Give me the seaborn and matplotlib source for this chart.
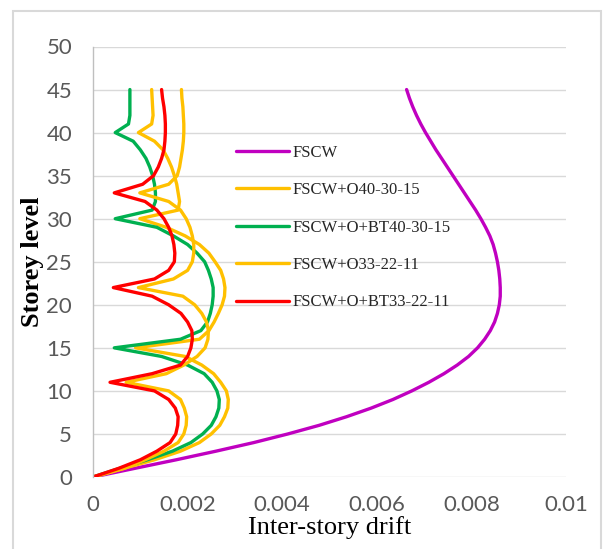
import matplotlib
matplotlib.use("Agg")
import matplotlib.pyplot as plt
import seaborn as sns
import pandas as pd
from matplotlib.patches import Rectangle

# ---- data (drift values in units of 1e-3) ----
storeys = list(range(0, 46))
series_names = ["FSCW", "FSCW+O40-30-15", "FSCW+O+BT40-30-15",
                "FSCW+O33-22-11", "FSCW+O+BT33-22-11"]
fscw = [0, 0.88, 1.76, 2.6, 3.4, 4.12, 4.78, 5.36, 5.88, 6.34,
        6.74, 7.1, 7.42, 7.7, 7.94, 8.13, 8.28, 8.4, 8.49, 8.55,
        8.59, 8.61, 8.61, 8.6, 8.58, 8.55, 8.51, 8.46, 8.39, 8.3,
        8.2, 8.09, 7.97, 7.85, 7.73, 7.61, 7.49, 7.37, 7.25, 7.14,
        7.03, 6.93, 6.84, 6.76, 6.69, 6.63]
o40 = [0, 0.65, 1.3, 1.85, 2.25, 2.5, 2.68, 2.78, 2.85, 2.86,
       2.82, 2.7, 2.55, 2.3, 1.95, 0.9, 2.25, 2.45, 2.56, 2.65,
       2.73, 2.78, 2.79, 2.76, 2.7, 2.58, 2.45, 2.25, 1.95, 1.55,
       0.99, 1.8, 1.83, 1.8, 1.77, 1.72, 1.66, 1.58, 1.48, 1.3,
       0.96, 1.24, 1.27, 1.26, 1.25, 1.24]
obt40 = [0, 0.56, 1.15, 1.68, 2.07, 2.32, 2.5, 2.6, 2.66, 2.67,
         2.62, 2.52, 2.35, 2.0, 1.45, 0.45, 1.85, 2.28, 2.42, 2.48,
         2.52, 2.54, 2.54, 2.5, 2.44, 2.36, 2.2, 2.0, 1.7, 1.35,
         0.47, 1.25, 1.32, 1.32, 1.3, 1.26, 1.2, 1.12, 1.0, 0.85,
         0.47, 0.75, 0.78, 0.78, 0.78, 0.78]
o33 = [0, 0.66, 1.1, 1.5, 1.8, 1.92, 1.97, 1.98, 1.93, 1.85,
       1.6, 0.7, 1.55, 1.92, 2.2, 2.37, 2.43, 2.44, 2.4, 2.3,
       2.15, 1.9, 0.96, 1.7, 2.0, 2.1, 2.13, 2.13, 2.1, 2.05,
       1.97, 1.85, 1.6, 0.99, 1.6, 1.78, 1.83, 1.86, 1.89, 1.91,
       1.92, 1.92, 1.91, 1.9, 1.88, 1.87]
obt33 = [0, 0.54, 1.0, 1.35, 1.63, 1.75, 1.79, 1.8, 1.74, 1.6,
         1.3, 0.36, 1.25, 1.85, 2.0, 2.07, 2.1, 2.09, 2.0, 1.86,
         1.6, 1.25, 0.43, 1.3, 1.6, 1.72, 1.73, 1.71, 1.67, 1.6,
         1.5, 1.35, 1.1, 0.45, 1.05, 1.28, 1.38, 1.45, 1.5, 1.52,
         1.53, 1.53, 1.52, 1.5, 1.47, 1.45]
x_ticks = [0, 0.002, 0.004, 0.006, 0.008, 0.01]
x_tick_labels = ["0", "0.002", "0.004", "0.006", "0.008", "0.01"]
y_ticks = [0, 5, 10, 15, 20, 25, 30, 35, 40, 45, 50]

colors = ["#C000C0", "#FFC000", "#00B050", "#FFC000", "#FF0000"]

frames = []
for name, vals in zip(series_names, [fscw, o40, obt40, o33, obt33]):
    frames.append(pd.DataFrame({"drift": [v / 1000.0 for v in vals],
                                "storey": storeys, "series": name}))
df = pd.concat(frames, ignore_index=True)

sns.set_theme(style="white")
plt.rcParams["font.family"] = ["Lato", "DejaVu Sans"]

fig = plt.figure(figsize=(6.03, 5.49), dpi=100)
ax = fig.add_axes([93 / 603, 1 - 477 / 549, (566 - 93) / 603, (477 - 46.5) / 549])

# chart border
fig.patches.append(Rectangle((13 / 603, -0.01), (601 - 13) / 603, 1 - 11 / 549 + 0.01,
                             transform=fig.transFigure, fill=False,
                             edgecolor="#d9d9d9", linewidth=1.5, zorder=0))

sns.lineplot(data=df, x="drift", y="storey", hue="series", hue_order=series_names,
             palette=colors, sort=False, estimator=None, orient="y",
             linewidth=2.4, ax=ax)

ax.set_xlim(0, 0.01)
ax.set_ylim(0, 50)
ax.set_xticks(x_ticks)
ax.set_xticklabels(x_tick_labels)
ax.set_yticks(y_ticks)
ax.yaxis.grid(True, color="#d9d9d9", linewidth=1.0)
ax.xaxis.grid(False)
ax.set_axisbelow(True)
for s in ["top", "right", "bottom"]:
    ax.spines[s].set_visible(False)
ax.spines["left"].set_color("#bfbfbf")
ax.spines["left"].set_linewidth(1.0)
ax.tick_params(axis="both", length=0, labelsize=16, colors="#595959")
ax.tick_params(axis="y", pad=15)
ax.tick_params(axis="x", pad=13)

ax.set_xlabel("Inter-story drift", family=["Liberation Serif"], fontsize=19,
              color="black", labelpad=1)
ax.set_ylabel("Storey level", family=["Liberation Serif"], fontsize=19,
              fontweight="bold", color="black", labelpad=2)

handles, labels = ax.get_legend_handles_labels()
leg = ax.legend(handles, labels, loc="upper left",
                bbox_to_anchor=(236 / 603, 1 - 145 / 549), bbox_transform=fig.transFigure,
                frameon=False, borderpad=0, borderaxespad=0,
                handlelength=3.2, handletextpad=0.2, labelspacing=1.28,
                prop={"family": "Liberation Serif", "size": 12})
for line in leg.get_lines():
    line.set_linewidth(2.4)

fig.savefig("out.png", dpi=100)
